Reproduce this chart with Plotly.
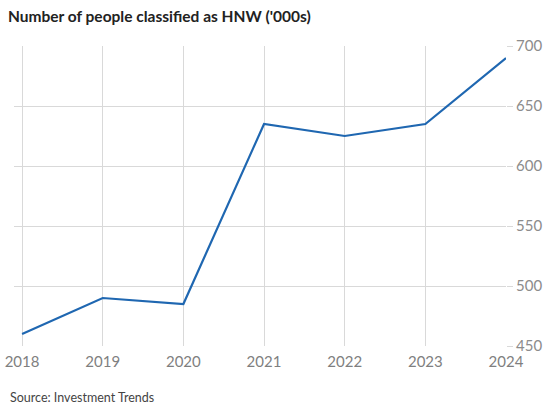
import plotly.graph_objects as go

years = [2018, 2019, 2020, 2021, 2022, 2023, 2024]
hnw_thousands = [460, 490, 485, 635, 625, 635, 690]
y_ticks = [450, 500, 550, 600, 650, 700]

fig = go.Figure()
fig.add_trace(go.Scatter(x=years, y=hnw_thousands, mode='lines',
                         line=dict(color='#1f67b1', width=2.2),
                         hoverinfo='x+y'))

fig.update_layout(
    width=556, height=411,
    margin=dict(l=14, r=50, t=46, b=65),
    paper_bgcolor='white', plot_bgcolor='white',
    showlegend=False,
    font=dict(family='Lato, sans-serif'),
    title=dict(text="<b>Number of people classified as HNW ('000s)</b>",
               x=8 / 556, xanchor='left', y=1 - 17 / 411, yanchor='middle',
               font=dict(size=15.5, color='#222222')),
    xaxis=dict(range=[2017.9, 2024], tickvals=years, showgrid=True,
               gridcolor='#d9d9d9', gridwidth=1, zeroline=False,
               showline=False, ticks='', automargin=False,
               ticklabelstandoff=5,
               tickfont=dict(size=15, color='#7f7f7f')),
    yaxis=dict(range=[450, 700], tickvals=y_ticks, side='right',
               showgrid=True, gridcolor='#d9d9d9', gridwidth=1,
               zeroline=False, showline=False, automargin=False,
               ticks='outside', ticklen=6, tickcolor='#d9d9d9',
               tickfont=dict(size=15, color='#8c8c8c')),
    annotations=[dict(text='Source: Investment Trends', xref='paper', yref='paper',
                      x=-6 / 492, xanchor='left', y=-51 / 300, yanchor='middle',
                      showarrow=False, font=dict(size=12.5, color='#444444'))],
)

# the page's default body margin would push the chart off the window
fig.write_html("out.html", config={'displayModeBar': False},
               post_script="document.body.style.margin='0';")
